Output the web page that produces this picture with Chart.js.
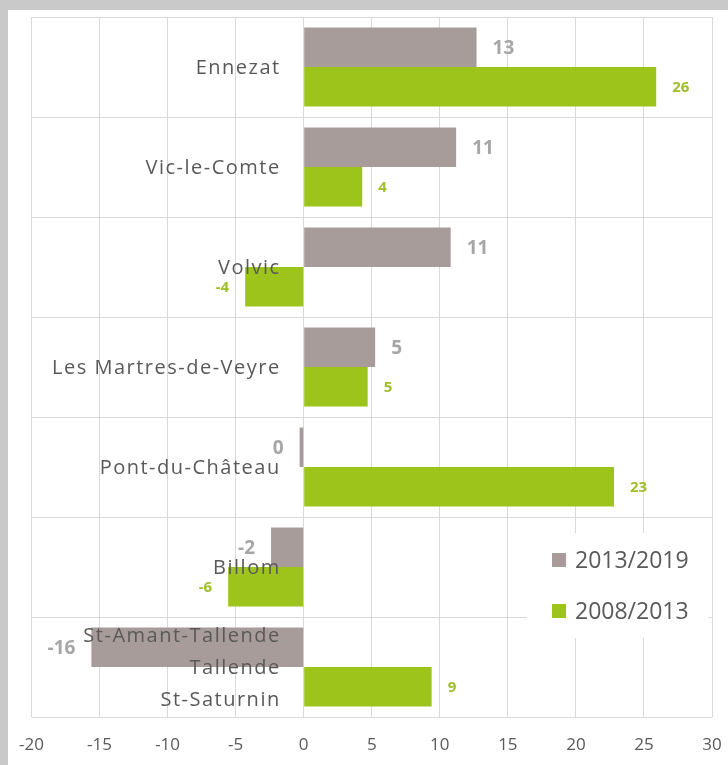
<!DOCTYPE html>
<html>
<head>
<meta charset="utf-8">
<script src="https://cdn.jsdelivr.net/npm/chart.js@4.4.1/dist/chart.umd.min.js"></script>
<style>
  html, body { margin:0; padding:0; background:#c9c9c9; width:728px; height:765px; overflow:hidden; }
  #panel { position:absolute; left:8px; top:10px; width:720px; height:755px; background:#ffffff; }
  canvas { position:absolute; left:0; top:0; }
</style>
</head>
<body>
<div id="panel"><canvas id="c" width="720" height="755"></canvas></div>
<script>
const categories = [
  'Ennezat',
  'Vic-le-Comte',
  'Volvic',
  'Les Martres-de-Veyre',
  'Pont-du-Château',
  'Billom',
  ['St-Amant-Tallende', 'Tallende', 'St-Saturnin']
];
const seriesLabels = ['2013/2019', '2008/2013'];
const values2013_2019 = [12.7, 11.2, 10.8, 5.25, -0.3, -2.4, -15.6];
const values2008_2013 = [25.9, 4.3, -4.3, 4.7, 22.8, -5.55, 9.4];
const xMin = -20, xMax = 30, xStep = 5;

const GRAY = '#a89c9b';
const GREEN = '#9dc41a';
const TEXT = '#595959';
const FONT = 'Open Sans';

function fmt(v) { const r = Math.round(v); return String(r === 0 ? 0 : r); }

const overlayPlugin = {
  id: 'overlay',
  afterDatasetsDraw(chart) {
    const ctx = chart.ctx;
    const xs = chart.scales.x, ys = chart.scales.y;
    const zero = xs.getPixelForValue(0);
    const area = chart.chartArea;
    ctx.save();
    // category labels next to zero axis
    ctx.fillStyle = TEXT;
    ctx.font = '20px "' + FONT + '"';
    ctx.textAlign = 'right';
    ctx.textBaseline = 'middle';
    ctx.letterSpacing = '1.5px';
    chart.data.labels.forEach((lab, i) => {
      const cy = ys.getPixelForValue(i);
      const lines = Array.isArray(lab) ? lab : [lab];
      const lh = 32;
      const start = cy - (lines.length - 1) * lh / 2;
      lines.forEach((ln, k) => ctx.fillText(ln, zero - 23, start + k * lh + 1));
    });
    ctx.letterSpacing = '0px';
    // data labels
    const styles = [
      { color: '#a6a6a6', font: 'bold 19px "' + FONT + '"' },
      { color: '#9fbf2a', font: 'bold 15px "' + FONT + '"' }
    ];
    chart.data.datasets.forEach((ds, di) => {
      const meta = chart.getDatasetMeta(di);
      ctx.fillStyle = styles[di].color;
      ctx.font = styles[di].font;
      meta.data.forEach((el, i) => {
        const v = ds.data[i];
        if (v >= 0) { ctx.textAlign = 'left'; ctx.fillText(fmt(v), el.x + 16, el.y + 1); }
        else { ctx.textAlign = 'right'; ctx.fillText(fmt(v), el.x - 16, el.y + 1); }
      });
    });
    // legend inside plot area
    const bx = area.right - 185, by = area.bottom - 184, bw = 181, bh = 105;
    ctx.fillStyle = '#ffffff';
    ctx.fillRect(bx, by, bw, bh);
    ctx.font = '23px "' + FONT + '"';
    ctx.textAlign = 'left';
    chart.data.datasets.forEach((ds, di) => {
      const cy = by + 27 + di * 51;
      ctx.fillStyle = ds.backgroundColor;
      ctx.fillRect(bx + 25, cy - 7, 14, 14);
      ctx.fillStyle = TEXT;
      ctx.fillText(ds.label, bx + 48, cy + 1);
    });
    ctx.restore();
  }
};

new Chart(document.getElementById('c'), {
  type: 'bar',
  data: {
    labels: categories,
    datasets: [
      { label: seriesLabels[0], data: values2013_2019, backgroundColor: GRAY, categoryPercentage: 0.79, barPercentage: 1.0 },
      { label: seriesLabels[1], data: values2008_2013, backgroundColor: GREEN, categoryPercentage: 0.79, barPercentage: 1.0 }
    ]
  },
  options: {
    indexAxis: 'y',
    responsive: false,
    animation: false,
    layout: { padding: { left: 23.5, right: 16, top: 7, bottom: 0 } },
    scales: {
      x: {
        min: xMin, max: xMax,
        ticks: { stepSize: xStep, color: TEXT, font: { family: FONT, size: 17 }, padding: 18 },
        grid: { color: '#d9d9d9', drawTicks: false },
        border: { display: false },
        afterFit(s) { s.height = 48; s.paddingLeft = 0; s.paddingRight = 0; }
      },
      y: {
        ticks: { display: false },
        grid: { color: '#d9d9d9', drawTicks: false },
        border: { display: false },
        afterFit(s) { s.width = 0; s.paddingTop = 0; s.paddingBottom = 0; }
      }
    },
    plugins: { legend: { display: false }, tooltip: { enabled: false } }
  },
  plugins: [overlayPlugin]
});
</script>
</body>
</html>
